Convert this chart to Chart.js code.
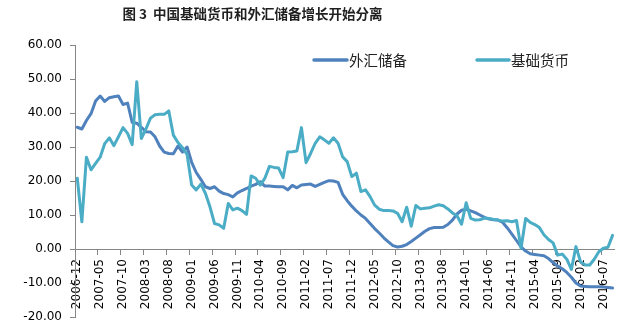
<!DOCTYPE html>
<html>
<head>
<meta charset="utf-8">
<script src="https://cdn.jsdelivr.net/npm/chart.js@4.4.1/dist/chart.umd.min.js"></script>
<style>
  html, body { margin: 0; padding: 0; background: #ffffff; }
  #wrap { position: relative; width: 632px; height: 329px; overflow: hidden; }
  #c { position: absolute; left: 0; top: 0; }
  #title { position: absolute; left: 0; top: 3px; width: 505px; text-align: center;
           font-family: "Noto Sans CJK SC", sans-serif; font-size: 13.5px; font-weight: bold;
           color: #1f1f1f; line-height: 20px; white-space: nowrap; }
</style>
</head>
<body>
<div id="wrap">
  <canvas id="c" width="632" height="329"></canvas>
  <div id="title">图 3&nbsp;&nbsp;中国基础货币和外汇储备增长开始分离</div>
</div>
<script>
// Categories: monthly, 2006-12 .. 2016-09
const months = [
  '2006-12',
  '2007-01','2007-02','2007-03','2007-04','2007-05','2007-06','2007-07','2007-08','2007-09','2007-10','2007-11','2007-12',
  '2008-01','2008-02','2008-03','2008-04','2008-05','2008-06','2008-07','2008-08','2008-09','2008-10','2008-11','2008-12',
  '2009-01','2009-02','2009-03','2009-04','2009-05','2009-06','2009-07','2009-08','2009-09','2009-10','2009-11','2009-12',
  '2010-01','2010-02','2010-03','2010-04','2010-05','2010-06','2010-07','2010-08','2010-09','2010-10','2010-11','2010-12',
  '2011-01','2011-02','2011-03','2011-04','2011-05','2011-06','2011-07','2011-08','2011-09','2011-10','2011-11','2011-12',
  '2012-01','2012-02','2012-03','2012-04','2012-05','2012-06','2012-07','2012-08','2012-09','2012-10','2012-11','2012-12',
  '2013-01','2013-02','2013-03','2013-04','2013-05','2013-06','2013-07','2013-08','2013-09','2013-10','2013-11','2013-12',
  '2014-01','2014-02','2014-03','2014-04','2014-05','2014-06','2014-07','2014-08','2014-09','2014-10','2014-11','2014-12',
  '2015-01','2015-02','2015-03','2015-04','2015-05','2015-06','2015-07','2015-08','2015-09','2015-10','2015-11','2015-12',
  '2016-01','2016-02','2016-03','2016-04','2016-05','2016-06','2016-07','2016-08','2016-09'
];

// 外汇储备 growth (%)
const reserves = [
  35.8,
  35.3, 37.8, 39.8, 43.5, 45.0, 43.4, 44.5, 44.8, 45.0, 42.5, 42.9, 37.2,
  37.0, 35.8, 34.5, 34.4, 33.0, 30.3, 28.5, 28.1, 28.0, 30.3, 28.5, 30.0,
  25.5, 22.5, 20.5, 18.3, 17.8, 18.3, 17.0, 16.3, 16.0, 15.3, 16.5, 17.2,
  17.8, 18.5, 19.0, 19.8, 18.5, 18.5, 18.4, 18.3, 18.3, 17.4, 18.7, 18.0,
  18.8, 19.0, 19.1, 18.4, 19.0, 19.6, 20.1, 20.0, 19.6, 16.1, 14.2, 12.6,
  11.2, 10.0, 9.0, 7.5, 6.0, 4.7, 3.3, 2.1, 1.0, 0.6, 0.8, 1.3,
  2.2, 3.2, 4.2, 5.2, 6.0, 6.3, 6.3, 6.4, 7.2, 8.5, 10.3, 11.4,
  11.7, 11.2, 10.7, 10.0, 9.3, 8.8, 8.6, 8.5, 7.8, 6.2, 4.4, 2.5,
  0.6, -0.6, -1.4, -1.6, -1.8, -2.0, -2.8, -4.0, -5.0, -5.8, -6.9, -8.3,
  -10.0, -10.9, -11.0, -11.1, -11.1, -11.1, -11.2, -11.3, -11.5
];

// 基础货币 growth (%)
const baseMoney = [
  20.8,
  8.0, 27.0, 23.3, 25.2, 27.0, 31.0, 32.7, 30.4, 33.0, 35.7, 34.0, 30.7,
  49.2, 32.5, 35.3, 38.5, 39.5, 39.6, 39.6, 40.6, 33.5, 31.3, 29.8, 27.8,
  18.8, 17.4, 19.1, 16.4, 12.4, 7.5, 7.1, 6.1, 13.4, 11.5, 12.0, 11.3,
  10.2, 21.5, 20.8, 18.8, 20.8, 24.3, 24.0, 23.8, 21.0, 28.5, 28.6, 28.8,
  35.7, 25.4, 28.1, 31.1, 33.0, 32.1, 31.1, 32.7, 31.1, 27.1, 25.7, 21.3,
  22.3, 16.9, 17.4, 15.4, 12.9, 11.7, 11.3, 11.3, 11.2, 10.5, 8.0, 12.3,
  6.7, 12.8, 11.8, 12.0, 12.1, 12.6, 13.0, 12.7, 11.8, 10.6, 9.8, 7.3,
  13.6, 9.0, 8.5, 8.6, 9.1, 9.0, 8.7, 8.5, 8.2, 8.3, 8.0, 8.4,
  0.2, 9.0, 7.8, 7.2, 6.3, 4.2, 2.8, 1.8, -1.8, -1.5, -3.0, -6.0,
  0.7, -3.7, -4.7, -4.7, -3.0, -0.8, 0.2, 0.5, 4.0
];

// Y-axis tick settings
const yMin = -20, yMax = 60, yStep = 10;
const labelEvery = 5;

const AXIS_GRAY = '#868686';
const FONT_TICK = { family: 'DejaVu Sans', size: 12 };

const legendPlugin = {
  id: 'refLegend',
  afterDraw(chart) {
    const ctx = chart.ctx;
    const spots = [
      { x0: 314, x1: 347, tx: 349 },
      { x0: 477, x1: 509, tx: 511 }
    ];
    const y = 60;
    ctx.save();
    chart.data.datasets.forEach((ds, i) => {
      const s = spots[i];
      ctx.strokeStyle = ds.borderColor;
      ctx.lineWidth = 3.5;
      ctx.lineCap = 'round';
      ctx.beginPath();
      ctx.moveTo(s.x0, y);
      ctx.lineTo(s.x1, y);
      ctx.stroke();
      ctx.fillStyle = '#222222';
      ctx.font = '14.5px "Noto Sans CJK SC"';
      ctx.textBaseline = 'middle';
      ctx.textAlign = 'left';
      ctx.fillText(ds.label, s.tx, y + 0.5);
    });
    ctx.restore();
  }
};

new Chart(document.getElementById('c'), {
  type: 'line',
  data: {
    labels: months,
    datasets: [
      { label: '外汇储备', data: reserves, borderColor: '#4F81BD', backgroundColor: '#4F81BD', order: 1 },
      { label: '基础货币', data: baseMoney, borderColor: '#4BACC6', backgroundColor: '#4BACC6', order: 0 }
    ]
  },
  options: {
    responsive: false,
    animation: false,
    layout: { padding: { top: 45, bottom: 12, right: 11, left: 0 } },
    plugins: { legend: { display: false }, tooltip: { enabled: false }, title: { display: false } },
    elements: {
      point: { radius: 0, hoverRadius: 0 },
      line: { tension: 0, borderWidth: 3, borderJoinStyle: 'round', borderCapStyle: 'round', fill: false }
    },
    scales: {
      x: {
        type: 'category',
        position: { y: 0 },
        offset: true,
        grid: {
          display: true,
          drawOnChartArea: false,
          drawTicks: true,
          tickLength: 5,
          offset: true,
          color: (c) => (c.index % labelEvery === 0 && c.index < months.length) ? AXIS_GRAY : 'rgba(0,0,0,0)'
        },
        border: { display: true, color: AXIS_GRAY, width: 1 },
        ticks: {
          autoSkip: false,
          minRotation: 90,
          maxRotation: 90,
          padding: 5,
          font: FONT_TICK,
          color: '#000000',
          callback: (v, i) => (i % labelEvery === 0 ? months[i] : '')
        }
      },
      y: {
        min: yMin,
        max: yMax,
        ticks: {
          stepSize: yStep,
          padding: 8,
          font: FONT_TICK,
          color: '#000000',
          callback: (v) => Number(v).toFixed(2)
        },
        grid: { drawOnChartArea: false, drawTicks: true, tickLength: 5, color: AXIS_GRAY },
        border: { display: true, color: AXIS_GRAY, width: 1 },
        afterFit: (s) => { s.width = 75; s.paddingTop = 0; s.paddingBottom = 0; }
      }
    }
  },
  plugins: [legendPlugin]
});
</script>
</body>
</html>
